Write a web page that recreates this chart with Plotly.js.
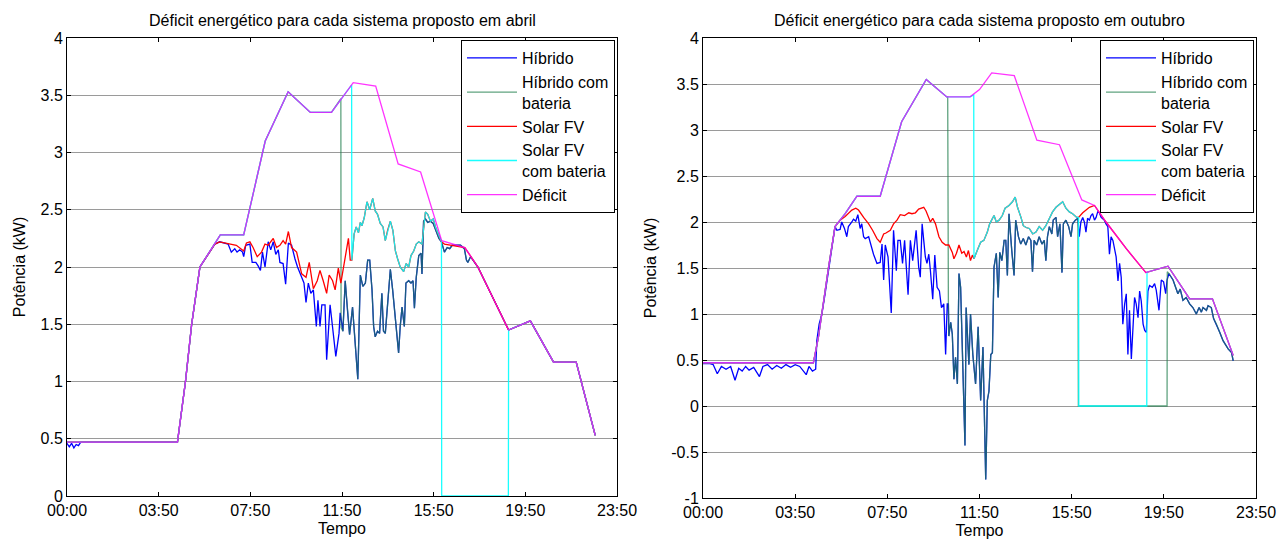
<!DOCTYPE html>
<html>
<head>
<meta charset="utf-8">
<script src="https://cdn.plot.ly/plotly-3.0.1.min.js"></script>
<style>html,body{margin:0;padding:0;background:#fff;}#chart{width:1277px;height:540px;}</style>
</head>
<body>
<div id="chart"></div>
<script>
// ---------- axis labels ----------
const X_TICKS = [0, 4, 8, 12, 16, 20, 24];
const X_LABELS = ['00:00', '03:50', '07:50', '11:50', '15:50', '19:50', '23:50'];
const Y1_TICKS = [0, 0.5, 1, 1.5, 2, 2.5, 3, 3.5, 4];
const Y1_LABELS = ['0', '0.5', '1', '1.5', '2', '2.5', '3', '3.5', '4'];
const Y2_TICKS = [-1, -0.5, 0, 0.5, 1, 1.5, 2, 2.5, 3, 3.5, 4];
const Y2_LABELS = ['-1', '-0.5', '0', '0.5', '1', '1.5', '2', '2.5', '3', '3.5', '4'];
const SERIES_NAMES = ['Híbrido', 'Híbrido com<br>bateria', 'Solar FV', 'Solar FV<br>com bateria', 'Déficit'];
const TITLE_APR = 'Déficit energético para cada sistema proposto em abril';
const TITLE_OCT = 'Déficit energético para cada sistema proposto em outubro';

// ---------- ABRIL (time in h, power in kW) ----------
const aprDefT = [0, 4.82, 5.17, 5.44, 5.8, 6.2, 6.69, 7.71, 8.65, 9.65, 10.62, 11.54, 12.0, 12.49, 13.47, 14.45, 15.43, 16.35, 17.36, 17.93, 19.27, 20.22, 21.23, 22.22, 23.05];
const aprDef  = [0.47, 0.47, 1.0, 1.5, 2.0, 2.13, 2.28, 2.28, 3.1, 3.53, 3.35, 3.35, 3.48, 3.61, 3.58, 2.9, 2.83, 2.23, 2.17, 2.0, 1.45, 1.53, 1.17, 1.17, 0.53];

const aprHybMornT = [0, 0.1, 0.2, 0.3, 0.4, 0.5, 0.6, 4.82, 5.17, 5.44, 5.8, 6.2, 6.45, 6.66, 7.03, 7.17, 7.32, 7.42, 7.54, 7.66, 7.71, 7.80, 7.98, 8.08, 8.24, 8.34, 8.44, 8.53, 8.64, 8.78, 8.89, 9.00, 9.11, 9.22, 9.29, 9.43, 9.54, 9.66, 9.80, 9.95, 10.06, 10.24, 10.34, 10.43, 10.53, 10.64, 10.75, 10.88, 10.95, 11.04, 11.12, 11.26, 11.33, 11.48, 11.62, 11.73, 11.87, 11.92];
const aprHybMorn  = [0.46, 0.43, 0.46, 0.42, 0.45, 0.44, 0.47, 0.47, 1.0, 1.5, 2.0, 2.13, 2.2, 2.22, 2.20, 2.13, 2.16, 2.13, 2.15, 2.13, 2.09, 2.19, 2.20, 2.04, 2.04, 2.01, 1.97, 2.13, 2.0, 2.22, 2.15, 2.22, 2.11, 2.15, 2.04, 2.03, 1.85, 2.21, 2.19, 2.07, 2.0, 1.91, 1.86, 1.69, 1.86, 1.77, 1.80, 1.48, 1.71, 1.48, 1.67, 1.67, 1.19, 1.67, 1.39, 1.22, 1.42, 1.60];

// hybrid systems once the battery is empty (both hybrid curves coincide)
const aprTealT = [12.04, 12.14, 12.24, 12.33, 12.46, 12.58, 12.69, 12.80, 12.91, 13.02, 13.12, 13.21, 13.31, 13.38, 13.45, 13.55, 13.64, 13.74, 13.81, 13.89, 13.99, 14.11, 14.21, 14.33, 14.47, 14.54, 14.62, 14.72, 14.79, 14.91, 15.01, 15.10, 15.16, 15.24, 15.35, 15.45, 15.49, 15.56, 15.64, 15.74, 15.86, 15.98, 16.08, 16.23, 16.34, 16.47, 16.59, 16.70, 16.81, 16.95, 17.17, 17.34, 17.43, 17.49, 17.61];
const aprTeal  = [1.44, 1.88, 1.62, 1.41, 1.65, 1.28, 1.02, 1.93, 1.83, 1.86, 2.06, 2.06, 1.80, 1.48, 1.39, 1.44, 1.42, 1.77, 1.44, 1.42, 1.65, 1.98, 1.80, 1.54, 1.25, 1.48, 1.65, 1.48, 1.86, 1.88, 1.86, 1.88, 1.64, 1.91, 2.10, 2.12, 1.94, 2.40, 2.42, 2.39, 2.40, 2.38, 2.32, 2.25, 2.22, 2.13, 2.17, 2.16, 2.19, 2.19, 2.19, 2.16, 2.06, 2.04, 2.09];
const aprHybBatDropT = [11.95, 11.96];
const aprHybBatDrop  = [3.47, 1.47];

const aprSolDayT = [6.45, 6.66, 7.10, 7.39, 7.71, 7.83, 7.98, 8.12, 8.30, 8.49, 8.64, 8.78, 9.00, 9.14, 9.29, 9.43, 9.54, 9.66, 9.80, 10.02, 10.24, 10.43, 10.57, 10.75, 10.92, 11.04, 11.18, 11.33, 11.44, 11.59, 11.70, 11.84, 11.95, 12.10, 12.21, 12.28, 12.36];
const aprSolDay  = [2.2, 2.22, 2.20, 2.19, 2.14, 2.21, 2.22, 2.17, 2.09, 2.13, 2.20, 2.19, 2.25, 2.17, 2.19, 2.23, 2.20, 2.31, 2.17, 2.13, 1.94, 1.91, 2.04, 1.81, 1.88, 1.97, 1.88, 1.77, 1.93, 1.88, 1.80, 1.99, 1.86, 2.03, 2.17, 2.25, 2.06];
const aprSolEveT = [16.47, 16.81];
const aprSolEve  = [2.20, 2.19];

const aprSolBatDayT = [12.43, 12.53, 12.62, 12.72, 12.80, 12.87, 12.97, 13.09, 13.21, 13.34, 13.45, 13.55, 13.67, 13.79, 13.89, 13.99, 14.11, 14.22, 14.33, 14.43, 14.54, 14.69, 14.80, 14.91, 15.01, 15.13, 15.24, 15.35, 15.49, 15.64, 15.74, 15.86, 15.98, 16.08, 16.23, 16.34];
const aprSolBatDay  = [2.06, 2.29, 2.35, 2.30, 2.39, 2.36, 2.43, 2.57, 2.50, 2.60, 2.49, 2.46, 2.38, 2.35, 2.23, 2.32, 2.40, 2.32, 2.14, 2.07, 2.00, 1.96, 2.03, 2.00, 2.10, 2.14, 2.20, 2.22, 2.20, 2.48, 2.46, 2.40, 2.42, 2.35, 2.27, 2.22];
const aprSolBatDropT = [12.42];
const aprSolBatDrop  = [3.59];
const aprSolBatZeroT = [16.35, 19.26];
const aprSolBatZero  = [0, 0];

// ---------- OUTUBRO ----------
const octDefT = [0, 4.79, 5.01, 5.23, 5.45, 5.73, 6.17, 6.68, 7.69, 8.62, 9.69, 10.58, 11.59, 12.0, 12.53, 13.51, 14.49, 15.47, 16.44, 16.99, 17.49, 18.37, 19.22, 20.18, 21.12, 22.11, 23.01];
const octDef  = [0.47, 0.47, 0.75, 1.15, 1.51, 1.95, 2.09, 2.28, 2.28, 3.09, 3.55, 3.36, 3.36, 3.44, 3.62, 3.59, 2.89, 2.84, 2.24, 2.18, 2.0, 1.71, 1.45, 1.52, 1.165, 1.165, 0.55];

const octHybNightT = [0, 0.3, 0.44, 0.62, 0.8, 1.0, 1.2, 1.39, 1.55, 1.7, 1.85, 2.0, 2.2, 2.45, 2.6, 2.8, 3.0, 3.2, 3.4, 3.6, 3.8, 4.0, 4.2, 4.48, 4.6, 4.75, 4.89, 4.94, 5.04, 5.16, 5.30, 5.47, 5.73];
const octHybNight  = [0.46, 0.46, 0.45, 0.35, 0.43, 0.40, 0.43, 0.28, 0.41, 0.38, 0.43, 0.39, 0.42, 0.32, 0.43, 0.45, 0.40, 0.44, 0.41, 0.45, 0.42, 0.45, 0.43, 0.34, 0.43, 0.38, 0.40, 0.71, 0.89, 1.0, 1.22, 1.51, 1.95];
const octHybDayT = [5.81, 5.95, 6.02, 6.14, 6.24, 6.31, 6.46, 6.53, 6.63, 6.72, 6.82, 6.89, 6.97, 7.04, 7.19, 7.30, 7.40, 7.55, 7.69, 7.77, 7.84, 7.91, 8.03, 8.17, 8.27, 8.39, 8.46, 8.56, 8.66, 8.75, 8.90, 9.00, 9.10, 9.25, 9.36, 9.43, 9.51, 9.58, 9.65, 9.72, 9.80, 9.87, 9.97, 10.06, 10.16, 10.26, 10.35, 10.45, 10.53, 10.60];
const octHybDay  = [1.91, 1.92, 2.0, 1.93, 1.84, 1.95, 2.0, 2.03, 2.01, 2.08, 1.93, 1.98, 1.84, 1.82, 1.84, 1.73, 1.65, 1.55, 1.56, 1.76, 1.37, 1.75, 1.62, 1.01, 1.91, 1.47, 1.80, 1.80, 1.55, 1.80, 1.21, 1.80, 1.58, 1.91, 1.51, 1.40, 1.98, 1.80, 1.62, 1.55, 1.65, 1.47, 1.16, 1.64, 1.29, 1.25, 1.07, 1.11, 0.56, 1.11];
const octTealT = [10.65, 10.67, 10.75, 10.82, 10.89, 10.96, 11.04, 11.11, 11.18, 11.25, 11.37, 11.42, 11.54, 11.61, 11.71, 11.83, 11.94, 12.05, 12.15, 12.27, 12.34, 12.41, 12.49, 12.56, 12.63, 12.73, 12.81, 12.88, 12.97, 13.07, 13.14, 13.21, 13.28, 13.40, 13.50, 13.57, 13.69, 13.79, 13.90, 14.01, 14.13, 14.23, 14.30, 14.37, 14.48, 14.59, 14.71, 14.81, 14.88, 14.95, 15.03, 15.14, 15.20, 15.32, 15.39, 15.49, 15.58, 15.64, 15.75, 15.87, 15.97, 16.04, 16.16, 16.27];
const octTeal  = [1.11, 0.76, 0.91, 0.78, 0.29, 0.53, 0.24, 1.44, 1.29, 0.67, -0.43, 1.07, 0.45, 1.0, 0.56, 0.24, 0.86, 0.06, 0.64, -0.80, 0.06, 0.16, 0.56, 0.58, 1.51, 1.66, 1.18, 1.67, 1.58, 1.80, 1.80, 1.42, 2.09, 1.69, 1.42, 2.02, 1.84, 1.76, 1.82, 1.75, 1.84, 1.80, 1.46, 1.80, 1.75, 1.84, 1.76, 1.80, 1.58, 1.84, 1.95, 1.87, 2.02, 2.05, 1.84, 1.98, 1.45, 1.98, 2.02, 1.95, 1.84, 1.98, 2.02, 2.04];
const octHybEveT = [16.33, 16.40, 16.48, 16.55, 16.62, 16.69, 16.77, 16.84, 16.91, 16.99, 17.06, 17.13, 17.20, 17.28, 17.42, 17.49, 17.57, 17.64, 17.71, 17.79, 17.86, 17.93, 18.01, 18.08, 18.15, 18.22, 18.30, 18.37, 18.44, 18.51, 18.59, 18.66, 18.73, 18.80, 18.88, 18.95, 19.02, 19.10, 19.17, 19.24, 19.31, 19.38, 19.50, 19.60, 19.67, 19.79, 19.89, 19.99, 20.08, 20.14];
const octHybEve  = [1.84, 2.0, 2.05, 2.0, 1.89, 2.04, 2.02, 2.07, 2.09, 2.02, 2.05, 2.11, 2.10, 2.05, 2.02, 1.98, 1.95, 1.65, 1.84, 1.80, 1.69, 1.62, 1.36, 1.55, 1.40, 0.89, 1.11, 1.22, 0.56, 1.04, 0.51, 0.82, 1.18, 1.11, 0.96, 1.25, 1.14, 0.89, 0.82, 0.80, 1.25, 1.31, 1.29, 1.33, 1.26, 1.04, 1.37, 1.35, 1.22, 1.37];
const octTealEveT = [20.22, 20.40, 20.61, 20.71, 20.83, 20.97, 21.12, 21.26, 21.41, 21.53, 21.63, 21.70, 21.85, 21.92, 22.06, 22.16, 22.28, 22.43, 22.57, 22.79, 22.94, 23.01];
const octTealEve  = [1.44, 1.37, 1.22, 1.27, 1.15, 1.18, 1.11, 1.07, 1.0, 1.07, 1.02, 1.07, 1.04, 1.09, 1.07, 0.95, 0.89, 0.80, 0.71, 0.62, 0.58, 0.49];
const octHybBatDropT = [10.62];
const octHybBatDrop  = [3.36];
const octHybBatZeroT = [16.29, 20.14, 20.15];
const octHybBatZero  = [0, 0, 1.46];

const octSolDayT = [5.95, 6.17, 6.46, 6.63, 6.75, 6.97, 7.19, 7.36, 7.55, 7.69, 7.84, 7.94, 8.13, 8.27, 8.42, 8.56, 8.75, 8.93, 9.07, 9.22, 9.36, 9.58, 9.68, 9.87, 9.97, 10.09, 10.24, 10.38, 10.53, 10.67, 10.82, 10.89, 11.0, 11.11, 11.23, 11.33, 11.43, 11.52, 11.61, 11.69, 11.76];
const octSolDay  = [2.02, 2.06, 2.13, 2.15, 2.13, 2.05, 1.98, 1.91, 1.82, 1.78, 1.87, 1.88, 1.91, 1.98, 2.02, 2.08, 2.07, 2.10, 2.09, 2.10, 2.14, 2.16, 2.12, 2.0, 2.04, 1.98, 1.84, 1.78, 1.75, 1.75, 1.67, 1.60, 1.66, 1.75, 1.66, 1.68, 1.62, 1.69, 1.58, 1.64, 1.60];
const octSolEveT = [16.48, 16.77];
const octSolEve  = [2.10, 2.16];

const octSolBatDayT = [11.90, 12.05, 12.19, 12.34, 12.44, 12.53, 12.63, 12.73, 12.85, 12.99, 13.11, 13.28, 13.43, 13.55, 13.65, 13.80, 13.90, 14.02, 14.16, 14.31, 14.45, 14.59, 14.74, 14.88, 15.03, 15.17, 15.32, 15.46, 15.61, 15.75, 15.90, 16.04, 16.22, 16.30];
const octSolBatDay  = [1.69, 1.78, 1.80, 1.89, 1.98, 2.02, 2.07, 2.0, 2.02, 2.07, 2.15, 2.18, 2.22, 2.27, 2.16, 2.05, 1.96, 1.94, 1.93, 1.87, 1.89, 1.95, 1.91, 1.96, 2.04, 2.11, 2.16, 2.19, 2.22, 2.15, 2.11, 2.09, 2.05, 2.05];
const octSolBatDropT = [11.75, 11.76];
const octSolBatDrop  = [3.38, 1.60];
const octSolBatZeroT = [16.31, 19.26, 19.27];
const octSolBatZero  = [0, 0, 1.455];

// ---------- helpers to assemble the curves from the arrays above ----------
function upTo(T, V, tmax) { const t = [], v = []; T.forEach((x, i) => { if (x <= tmax) { t.push(x); v.push(V[i]); } }); return [t, v]; }
function from(T, V, tmin) { const t = [], v = []; T.forEach((x, i) => { if (x >= tmin) { t.push(x); v.push(V[i]); } }); return [t, v]; }
function join(...parts) { return [[].concat(...parts.map(p => p[0])), [].concat(...parts.map(p => p[1]))]; }

const apr = {
  hyb: join([aprHybMornT, aprHybMorn], [aprTealT, aprTeal], from(aprDefT, aprDef, 17.93)),
  hybBat: join(upTo(aprDefT, aprDef, 11.54), [aprHybBatDropT, aprHybBatDrop], [aprTealT, aprTeal], from(aprDefT, aprDef, 17.93)),
  sol: join(upTo(aprDefT, aprDef, 6.2), [aprSolDayT, aprSolDay], [aprSolBatDayT, aprSolBatDay], [aprSolEveT, aprSolEve], from(aprDefT, aprDef, 17.36)),
  solBat: join(upTo(aprDefT, aprDef, 12.0), [aprSolBatDropT, aprSolBatDrop], [aprSolBatDayT, aprSolBatDay], [aprSolBatZeroT, aprSolBatZero], from(aprDefT, aprDef, 19.27)),
  def: [aprDefT, aprDef]
};
const oct = {
  hyb: join([octHybNightT, octHybNight], [octHybDayT, octHybDay], [octTealT, octTeal], [octHybEveT, octHybEve], [octTealEveT, octTealEve]),
  hybBat: join(upTo(octDefT, octDef, 10.58), [octHybBatDropT, octHybBatDrop], [octTealT, octTeal], [octHybBatZeroT, octHybBatZero], [octTealEveT, octTealEve]),
  sol: join(upTo(octDefT, octDef, 5.73), [octSolDayT, octSolDay], [octSolBatDayT, octSolBatDay], [octSolEveT, octSolEve], from(octDefT, octDef, 16.99)),
  solBat: join(upTo(octDefT, octDef, 11.59), [octSolBatDropT, octSolBatDrop], [octSolBatDayT, octSolBatDay], [octSolBatZeroT, octSolBatZero], from(octDefT, octDef, 20.18)),
  def: [octDefT, octDef]
};

const COLORS = ['#0000ff', '#23804f', '#ff0000', '#00ffff', '#ff00ff'];
const OPAC = [1, 0.72, 1, 0.9, 0.8];
const KEYS = ['hyb', 'hybBat', 'sol', 'solBat', 'def'];

const traces = [];
[[apr, 'x', 'y', 'legend'], [oct, 'x2', 'y2', 'legend2']].forEach(([set, xa, ya, lg]) => {
  KEYS.forEach((k, i) => {
    traces.push({
      type: 'scatter', mode: 'lines',
      x: set[k][0], y: set[k][1],
      xaxis: xa, yaxis: ya, legend: lg,
      name: SERIES_NAMES[i],
      opacity: OPAC[i],
      line: { color: COLORS[i], width: 1.3 },
      hoverinfo: 'skip'
    });
  });
});

const FONT = 'Arial, "Liberation Sans", Helvetica, sans-serif';
const W = 1277, H = 540;
function xAxis(dom, anchor) {
  return {
    domain: dom, anchor: anchor, range: [0, 24],
    tickmode: 'array', tickvals: X_TICKS, ticktext: X_LABELS,
    ticks: 'inside', ticklen: 4, tickcolor: '#000', tickwidth: 1,
    showline: true, linecolor: '#000', linewidth: 1, mirror: 'ticks',
    showgrid: false, zeroline: false,
    tickfont: { size: 16, color: '#000', family: FONT },
    title: { text: 'Tempo', font: { size: 16, color: '#000', family: FONT }, standoff: 4 }
  };
}
function yAxis(dom, anchor, range, vals, labels) {
  return {
    domain: dom, anchor: anchor, range: range,
    tickmode: 'array', tickvals: vals, ticktext: labels,
    ticks: 'inside', ticklen: 4, tickcolor: '#000', tickwidth: 1,
    showline: true, linecolor: '#000', linewidth: 1, mirror: 'ticks',
    showgrid: true, gridcolor: '#9a9a9a', gridwidth: 1, zeroline: false,
    tickfont: { size: 16, color: '#000', family: FONT },
    title: { text: 'Potência (kW)', font: { size: 16, color: '#000', family: FONT }, standoff: 10 }
  };
}
function legendAt(xRight) {
  return {
    x: xRight / W, xanchor: 'right', y: (H - 40) / H, yanchor: 'top',
    bgcolor: '#fff', bordercolor: '#000', borderwidth: 1,
    font: { size: 16, color: '#000', family: FONT },
    itemwidth: 50, tracegroupgap: 0, traceorder: 'normal'
  };
}

const layout = {
  width: W, height: H,
  margin: { l: 0, r: 0, t: 0, b: 0 },
  paper_bgcolor: '#fff', plot_bgcolor: '#fff',
  font: { family: FONT, size: 16, color: '#000' },
  showlegend: true, hovermode: false,
  xaxis: xAxis([67 / W, 617 / W], 'y'),
  yaxis: yAxis([44 / H, 502 / H], 'x', [0, 4], Y1_TICKS, Y1_LABELS),
  xaxis2: xAxis([703 / W, 1256 / W], 'y2'),
  yaxis2: yAxis([42 / H, 502 / H], 'x2', [-1, 4], Y2_TICKS, Y2_LABELS),
  legend: legendAt(615),
  legend2: legendAt(1254),
  annotations: [
    { text: TITLE_APR, xref: 'paper', yref: 'paper', x: 342 / W, y: (H - 20) / H, xanchor: 'center', yanchor: 'middle', showarrow: false, font: { size: 16, color: '#000', family: FONT } },
    { text: TITLE_OCT, xref: 'paper', yref: 'paper', x: 979.5 / W, y: (H - 20) / H, xanchor: 'center', yanchor: 'middle', showarrow: false, font: { size: 16, color: '#000', family: FONT } }
  ]
};

Plotly.newPlot('chart', traces, layout, { displayModeBar: false, staticPlot: true });
</script>
</body>
</html>
